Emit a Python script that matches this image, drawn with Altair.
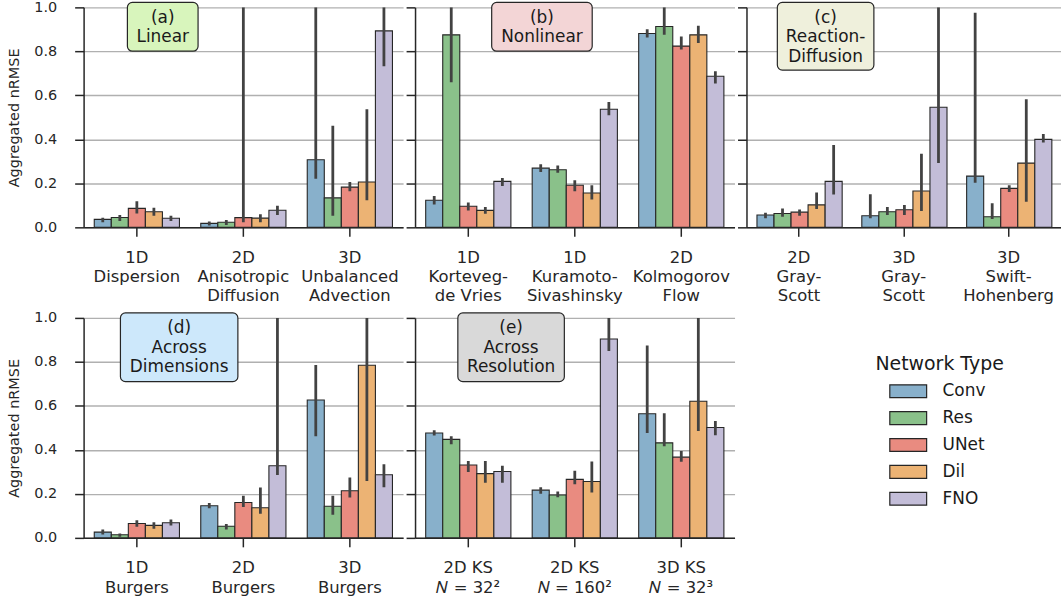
import altair as alt
import pandas as pd

nets = ["Conv", "Res", "UNet", "Dil", "FNO"]
colors = ["#88b0cb", "#8ac18a", "#e98b80", "#ecb374", "#c3bdd8"]

# ---- Panel (a) Linear ----
a_cats = ["1D|Dispersion", "2D|Anisotropic|Diffusion", "3D|Unbalanced|Advection"]
a_mean = [[0.036, 0.045, 0.086, 0.071, 0.041],
          [0.018, 0.023, 0.044, 0.042, 0.078],
          [0.307, 0.134, 0.183, 0.206, 0.893]]
a_low = [[0.023, 0.029, 0.063, 0.053, 0.029],
         [0.008, 0.011, 0.023, 0.023, 0.056],
         [0.221, 0.053, 0.164, 0.123, 0.732]]
a_high = [[0.044, 0.056, 0.119, 0.089, 0.053],
          [0.026, 0.033, 1.000, 0.059, 0.098],
          [1.000, 0.462, 0.206, 0.537, 1.000]]

# ---- Panel (b) Nonlinear ----
b_cats = ["1D|Korteveg-|de Vries", "1D|Kuramoto-|Sivashinsky", "2D|Kolmogorov|Flow"]
b_mean = [[0.123, 0.875, 0.096, 0.077, 0.209],
          [0.269, 0.262, 0.191, 0.156, 0.537],
          [0.881, 0.913, 0.824, 0.875, 0.687]]
b_low = [[0.104, 0.660, 0.077, 0.062, 0.188],
         [0.251, 0.248, 0.164, 0.126, 0.510],
         [0.863, 0.875, 0.808, 0.838, 0.654]]
b_high = [[0.143, 1.000, 0.113, 0.092, 0.224],
          [0.287, 0.281, 0.214, 0.191, 0.570],
          [0.901, 1.000, 0.868, 0.916, 0.710]]

# ---- Panel (c) Reaction-Diffusion ----
c_cats = ["2D|Gray-|Scott", "3D|Gray-|Scott ", "3D|Swift-|Hohenberg"]
c_mean = [[0.056, 0.063, 0.069, 0.102, 0.209],
          [0.053, 0.071, 0.080, 0.165, 0.546],
          [0.233, 0.048, 0.177, 0.292, 0.400]]
c_low = [[0.041, 0.048, 0.053, 0.083, 0.149],
         [0.041, 0.056, 0.056, 0.074, 0.293],
         [0.203, 0.038, 0.161, 0.116, 0.386]]
c_high = [[0.066, 0.086, 0.081, 0.158, 0.374],
          [0.150, 0.093, 0.101, 0.334, 1.000],
          [0.976, 0.110, 0.191, 0.582, 0.424]]

# ---- Panel (d) Across Dimensions ----
d_cats = ["1D|Burgers", "2D|Burgers", "3D|Burgers"]
d_mean = [[0.026, 0.014, 0.065, 0.057, 0.069],
          [0.146, 0.053, 0.161, 0.137, 0.328],
          [0.627, 0.144, 0.214, 0.785, 0.287]]
d_low = [[0.015, 0.005, 0.050, 0.041, 0.056],
         [0.135, 0.038, 0.140, 0.110, 0.286],
         [0.462, 0.105, 0.183, 0.259, 0.230]]
d_high = [[0.038, 0.020, 0.080, 0.071, 0.083],
          [0.158, 0.063, 0.192, 0.229, 1.000],
          [0.786, 0.191, 0.274, 1.000, 0.335]]

# ---- Panel (e) Across Resolution ----
e_cats = ["2D KS|𝑁 = 32²", "2D KS|𝑁 = 160²", "3D KS|𝑁 = 32³"]
e_mean = [[0.477, 0.448, 0.331, 0.292, 0.302],
          [0.217, 0.195, 0.266, 0.256, 0.904],
          [0.564, 0.432, 0.367, 0.621, 0.502]]
e_low = [[0.465, 0.426, 0.299, 0.251, 0.251],
         [0.201, 0.185, 0.244, 0.206, 0.850],
         [0.477, 0.417, 0.346, 0.486, 0.466]]
e_high = [[0.489, 0.462, 0.350, 0.350, 0.328],
          [0.230, 0.211, 0.305, 0.347, 1.000],
          [0.875, 0.567, 0.395, 1.000, 0.531]]

FONT = "DejaVu Sans"
INK = "#262626"
W1, W3, H = 321, 316, 221
NOVIEW = alt.ViewBackground(stroke="transparent", strokeWidth=0)


def panel(cats, mean, low, high, label, box_fill, box, show_y, width):
    rows = []
    for i, c in enumerate(cats):
        for j, n in enumerate(nets):
            rows.append({"cat": c, "net": n, "mean": mean[i][j],
                         "low": low[i][j], "high": high[i][j]})
    df = pd.DataFrame(rows)
    base = alt.Chart(df)
    x = alt.X("cat:N", sort=cats,
              scale=alt.Scale(paddingInner=0.2, paddingOuter=0.1),
              axis=alt.Axis(title=None, labelAngle=0,
                            labelExpr="split(datum.label, '|')",
                            labelFontSize=16.5, labelLineHeight=19.5,
                            labelColor=INK, labelFont=FONT,
                            labelBaseline="top", labelPadding=13,
                            tickSize=9, tickWidth=1.5, tickColor=INK,
                            domainColor=INK, domainWidth=1.5, grid=False))
    xo = alt.XOffset("net:N", sort=nets,
                     scale=alt.Scale(paddingInner=0, paddingOuter=0))
    if show_y:
        yaxis = alt.Axis(title="Aggregated nRMSE", values=[0, 0.2, 0.4, 0.6, 0.8, 1.0],
                         format=".1f", labelFontSize=14.5, titleFontSize=14.5,
                         titleFontWeight="normal", titleColor=INK, labelColor=INK,
                         labelFont=FONT, titleFont=FONT, labelPadding=18,
                         titlePadding=12, tickSize=9, tickWidth=1.5, tickColor=INK,
                         domainColor=INK, domainWidth=1.5, gridColor="#b0b0b0",
                         gridWidth=1.4)
    else:
        yaxis = alt.Axis(title=None, values=[0, 0.2, 0.4, 0.6, 0.8, 1.0],
                         labels=False, tickSize=9, tickWidth=1.5, tickColor=INK,
                         domainColor=INK, domainWidth=1.5, gridColor="#b0b0b0",
                         gridWidth=1.4)
    bars = base.mark_bar(stroke=INK, strokeWidth=1.1).encode(
        x=x, xOffset=xo,
        y=alt.Y("mean:Q", scale=alt.Scale(domain=[0, 1]), axis=yaxis),
        color=alt.Color("net:N", sort=nets,
                        scale=alt.Scale(domain=nets, range=colors), legend=None),
    )
    errs = base.mark_rule(color="#424242", strokeWidth=2.8, clip=True).encode(
        x=x, xOffset=xo, y="low:Q", y2="high:Q")
    one = alt.Chart(pd.DataFrame({"k": [0]}))
    x0, x1, y0, y1 = box
    rect = one.mark_rect(fill=box_fill, stroke=INK, strokeWidth=1.2,
                         cornerRadius=5).encode(
        x=alt.value(x0), x2=alt.value(x1), y=alt.value(y0), y2=alt.value(y1))
    txt = one.mark_text(lineBreak="\n", fontSize=17, font=FONT, color="#1a1a1a",
                        align="center", baseline="alphabetic", lineHeight=19.5).encode(
        x=alt.value((x0 + x1) / 2), y=alt.value(15.5), text=alt.value(label))
    return alt.layer(bars, errs, rect, txt).properties(width=width, height=H, view=NOVIEW)


pa = panel(a_cats, a_mean, a_low, a_high, "(a)\nLinear", "#d8f5bc",
           (44, 115, -5, 44), True, W1)
pb = panel(b_cats, b_mean, b_low, b_high, "(b)\nNonlinear", "#f3d5d6",
           (77, 178, -5, 44), False, W1)
pc = panel(c_cats, c_mean, c_low, c_high, "(c)\nReaction-\nDiffusion", "#eff0dc",
           (31, 128, -5, 63), False, W3)
pd_ = panel(d_cats, d_mean, d_low, d_high, "(d)\nAcross\nDimensions", "#cde8fb",
            (37, 155, -5, 64), True, W1)
pe = panel(e_cats, e_mean, e_low, e_high, "(e)\nAcross\nResolution", "#d9d9d9",
           (43, 150, -5, 64), False, W1)

# ---- manual legend panel ----
leg_df = pd.DataFrame({"net": nets})
ly = alt.Y("net:N", sort=nets, axis=None,
           scale=alt.Scale(domain=nets, range=[73.7, 181.7], padding=0))
lcol = alt.Color("net:N", sort=nets, scale=alt.Scale(domain=nets, range=colors),
                 legend=None)
leg_sym = alt.Chart(leg_df).mark_point(
    shape="M-1,-0.35H1V0.35H-1Z", size=1369, filled=True, opacity=1,
    stroke=INK, strokeWidth=1.2).encode(x=alt.value(162.5), y=ly, fill=lcol)
leg_lab = alt.Chart(leg_df).mark_text(
    align="left", baseline="middle", fontSize=17, font=FONT, color="#1a1a1a").encode(
    x=alt.value(197), y=ly, text="net:N")
leg_title = alt.Chart(pd.DataFrame({"k": [0]})).mark_text(
    align="center", baseline="middle", fontSize=19, font=FONT, color="#1a1a1a").encode(
    x=alt.value(194), y=alt.value(46), text=alt.value("Network Type"))
legend = alt.layer(leg_sym, leg_lab, leg_title).properties(
    width=W3, height=H, view=NOVIEW)

chart = alt.concat(pa, pb, pc, pd_, pe, legend, columns=3,
                   spacing={"row": 91, "column": 12}, bounds="flush").properties(
    padding={"left": 6, "top": -2, "right": 0, "bottom": 0}
).configure_view(strokeWidth=0, stroke="transparent").configure(font=FONT)

chart.save("out.html", embed_options={"renderer": "svg", "actions": False})
